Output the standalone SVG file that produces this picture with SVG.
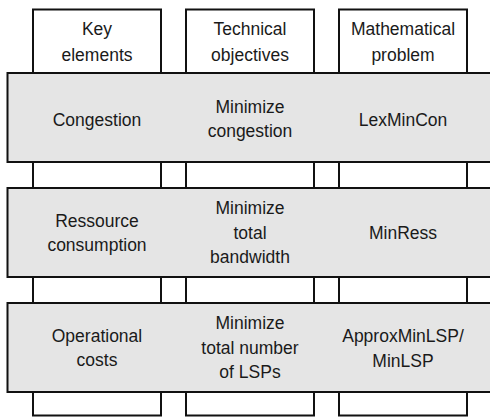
<svg xmlns="http://www.w3.org/2000/svg" width="490" height="418" viewBox="0 0 490 418">
<style>
.col{fill:#ffffff;stroke:#111111;stroke-width:2}
.band{fill:#e5e5e5;stroke:#111111;stroke-width:2}
text{font-family:"Liberation Sans",Arial,sans-serif;font-size:17.5px;fill:#1a1a1a;text-anchor:middle}
</style>
<rect width="490" height="418" fill="#ffffff"/>
<g id="col-key">
<rect class="col" x="33" y="9.5" width="128" height="406"/>
<text x="97" y="35">Key</text>
<text x="97" y="61">elements</text>
</g>
<g id="col-tech">
<rect class="col" x="186" y="9.5" width="128" height="406"/>
<text x="250" y="35">Technical</text>
<text x="250" y="61">objectives</text>
</g>
<g id="col-math">
<rect class="col" x="339" y="9.5" width="128" height="406"/>
<text x="403" y="35">Mathematical</text>
<text x="403" y="61">problem</text>
</g>
<g id="band-congestion">
<rect class="band" x="7.5" y="73" width="490" height="89"/>
<text x="97" y="126">Congestion</text>
<text x="250" y="113">Minimize</text>
<text x="250" y="137">congestion</text>
<text x="403" y="126">LexMinCon</text>
</g>
<g id="band-ressource">
<rect class="band" x="7.5" y="188" width="490" height="89"/>
<text x="97" y="227">Ressource</text>
<text x="97" y="251">consumption</text>
<text x="250" y="214">Minimize</text>
<text x="250" y="238.5">total</text>
<text x="250" y="263">bandwidth</text>
<text x="403" y="239">MinRess</text>
</g>
<g id="band-operational">
<rect class="band" x="7.5" y="303" width="490" height="89"/>
<text x="97" y="342">Operational</text>
<text x="97" y="366">costs</text>
<text x="250" y="329">Minimize</text>
<text x="250" y="353.5">total number</text>
<text x="250" y="378">of LSPs</text>
<text x="403" y="342">ApproxMinLSP/</text>
<text x="403" y="367">MinLSP</text>
</g>
</svg>
